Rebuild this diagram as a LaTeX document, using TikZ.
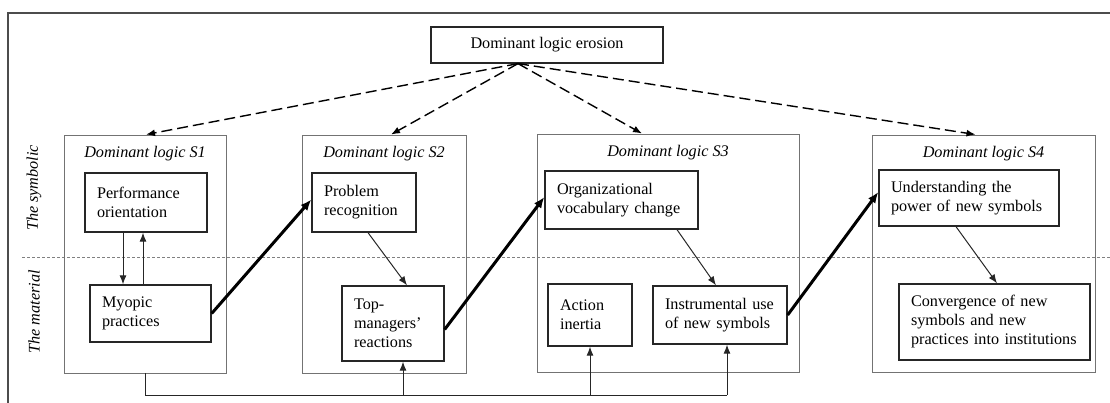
\documentclass[tikz,border=0pt]{standalone}
\usepackage{fontspec}
\setmainfont{Liberation Serif}
\usetikzlibrary{arrows.meta}

\begin{document}
\begin{tikzpicture}[x=1pt,y=-1pt,
	font=\fontsize{16.2}{19}\selectfont,
	stage/.style={draw=black!55,line width=0.9pt,inner sep=0pt},
	item/.style={draw=black!85,line width=1.3pt,align=left,inner xsep=12pt,inner ysep=0pt},
	title/.style={font=\fontsize{16.2}{19}\selectfont\itshape},
	thin arrow/.style={draw=black!85,line width=1pt,-{Latex[length=9pt,width=7pt]}},
	thick arrow/.style={line width=3pt,-{Latex[length=11pt,width=9pt]}},
	erosion arrow/.style={line width=1.4pt,dash pattern=on 11pt off 5pt,-{Latex[length=9pt,width=7pt]}}]
	\useasboundingbox (0,0) rectangle (1110,403);
	
	\newcommand\stagebox[6]{\node[stage,minimum width={#4-#2},minimum height={#5-#3}] (#1) at ({(#2+#4)/2},{(#3+#5)/2}) {};
		\node[title] (#1t) at ({(#2+#4)/2},{#3+19}) {#6}}
	\newcommand\itembox[6]{\pgfmathsetmacro\boxw{#4-#2-24}\pgfmathsetmacro\boxh{#5-#3}
		\node[item,text width=\boxw pt,minimum height=\boxh pt] (#1) at ({(#2+#4)/2},{(#3+#5)/2}) {#6}}
	
	% frame and the two layers
	\draw[black!70,line width=1.1pt] (1110,13) -- (8,13) -- (8,403);
	\draw[black!50,line width=0.6pt,dash pattern=on 3pt off 2pt] (22,257) -- (1110,257);
	\node[title,rotate=90] (symb) at (34,188) {The symbolic};
	\node[title,rotate=90] (matl) at (34,312) {The material};
	
	\node[draw=black!85,line width=1.2pt,minimum width=232,minimum height=36] (erosion) at (547,45) {Dominant logic erosion};
	\coordinate (apex) at ([xshift=-29pt]erosion.south);
	
	\stagebox{s1}{64}{135}{226}{373}{Dominant logic S1};
	\stagebox{s2}{302}{135}{466}{373}{Dominant logic S2};
	\stagebox{s3}{537}{134}{799}{372}{Dominant logic S3};
	\stagebox{s4}{872}{135}{1095}{372}{Dominant logic S4};
	
	\itembox{perf}{85}{173}{207}{232}{Performance\\orientation};
	\itembox{myopic}{90}{285}{211}{342}{Myopic\\practices};
	\itembox{problem}{312}{173}{416}{232}{Problem\\recognition};
	\itembox{top}{342}{286}{444}{361}{Top-\\managers'\\reactions};
	\itembox{vocab}{545}{171}{698}{229}{Organizational\\vocabulary change};
	\itembox{action}{548}{284}{632}{346}{Action\\inertia};
	\itembox{instr}{653}{286}{787}{344}{Instrumental use\\of new symbols};
	\itembox{power}{879}{170}{1059}{226}{Understanding the\\power of new symbols};
	\itembox{conv}{899}{284}{1090}{360}{Convergence of new\\symbols and new\\practices into institutions};
	
	\foreach \s/\dx in {s1/1,s2/7,s3/-26,s4/-8}
	{
		\draw[erosion arrow] (apex) -- ([xshift=\dx pt]\s.north);
	}
	
	\draw[thin arrow] ([xshift=-23pt]perf.south) coordinate (pm) -- (pm |- myopic.north);
	\draw[thin arrow] ([xshift=-7.5pt]myopic.north) coordinate (mp) -- (mp |- perf.south);
	\draw[thin arrow] ([xshift=4pt]problem.south) -- ([xshift=14pt]top.north);
	\draw[thin arrow] ([xshift=55.5pt]vocab.south) -- ([xshift=-4pt]instr.north);
	\draw[thin arrow] ([xshift=-13pt]power.south) -- ([xshift=2.5pt]conv.north);
	
	\draw[thick arrow] (myopic.east) -- ([yshift=3pt]problem.west);
	\draw[thick arrow] ([yshift=-6pt]top.east) -- ([yshift=3pt]vocab.west);
	\draw[thick arrow] (instr.east) -- ([yshift=6pt]power.west);
	
	% feedback from S1 into the material layer
	\coordinate (busend) at (727,395);
	\draw[black!85,line width=1pt] (s1.south) |- (busend);
	\foreach \n/\dx in {top/10,action/0,instr/7}
	{
		\draw[thin arrow] ([xshift=\dx pt]\n.south |- busend) -- ([xshift=\dx pt]\n.south);
	}
\end{tikzpicture}
\end{document}
